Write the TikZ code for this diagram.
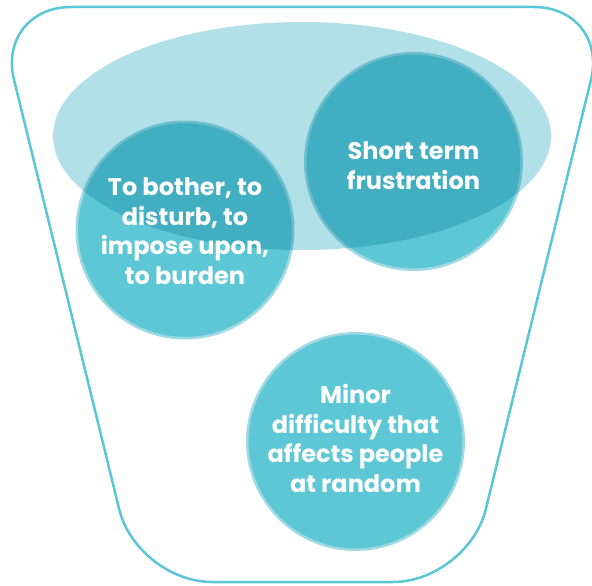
\documentclass[tikz,border=0pt]{standalone}
\usepackage{fontspec}
\setmainfont{Poppins}
\definecolor{cupline}{HTML}{5BC6D5}
\definecolor{bubblefill}{HTML}{5EC7D5}
\definecolor{bubblering}{HTML}{9FD9E3}
\definecolor{haze}{HTML}{B2E0E8}
\begin{document}
\begin{tikzpicture}[x=1pt,y=-1pt,
    bubble/.style={circle,fill=bubblefill,draw=bubblering,line width=2.5pt,
      minimum size=216.5pt,inner sep=0pt},
    caption/.style={text=white,align=center,
      font=\bfseries\fontsize{24}{29.5}\selectfont}]
  \useasboundingbox (0,0) rectangle (592,586);
  % outline of the cup
  \draw[cupline,line width=2.5pt,rounded corners=75pt]
    (-3.8,7) -- (608.8,7) -- (468,582) -- (137,582) -- cycle;
  % the three circles
  \node[bubble] (bother) at (185,230) {};
  \node[bubble] (short) at (413.5,161.5) {};
  \node[bubble] (minor) at (355.5,441.5) {};
  % the wide ellipse, multiplied over them
  \fill[haze,blend mode=multiply] (302,136) ellipse [x radius=249,y radius=114];
  % texts
  \node[caption] (bothertext) at ([yshift=-1]bother) {To bother, to\\disturb, to\\impose upon,\\to burden};
  \node[caption] (shorttext) at ([yshift=-4]short) {Short term\\frustration};
  \node[caption] (minortext) at ([yshift=3]minor) {Minor\\difficulty that\\affects people\\at random};
\end{tikzpicture}
\end{document}
